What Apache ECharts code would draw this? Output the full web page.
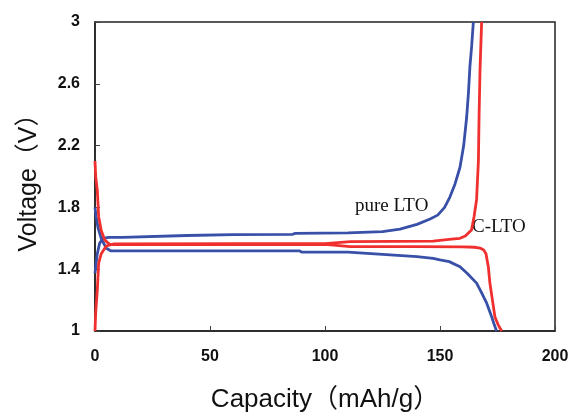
<!DOCTYPE html>
<html>
<head>
<meta charset="utf-8">
<script src="https://cdn.jsdelivr.net/npm/echarts@6/dist/echarts.min.js"></script>
<style>
html,body{margin:0;padding:0;background:#fff;}
#chart{width:573px;height:413px;}
</style>
</head>
<body>
<div id="chart"></div>
<script>
// pure LTO charge
var pureChargeCap = [0, 0.5, 1, 2, 3.5, 6, 12, 12.5, 40, 60, 86, 87, 110, 125, 132.6, 140, 145.7, 149, 152, 154.3, 156.5, 158.7, 160.3, 161.6, 162.4, 163, 163.8, 164.5];
var pureChargeV   = [1.375, 1.44, 1.50, 1.567, 1.60, 1.606, 1.606, 1.615, 1.618, 1.624, 1.626, 1.632, 1.635, 1.643, 1.66, 1.69, 1.725, 1.75, 1.80, 1.867, 1.95, 2.06, 2.2, 2.385, 2.55, 2.71, 2.85, 3.0];
// pure LTO discharge
var pureDisCap = [0, 0.5, 1.3, 2.7, 4.9, 7, 40, 89, 90, 110, 125, 140, 147, 150, 154, 158.7, 162, 165.9, 168, 170.3, 172.5, 173.6, 174.6];
var pureDisV   = [1.80, 1.74, 1.67, 1.60, 1.535, 1.518, 1.518, 1.518, 1.51, 1.51, 1.496, 1.481, 1.47, 1.46, 1.449, 1.416, 1.37, 1.31, 1.25, 1.18, 1.09, 1.04, 1.0];
// C-LTO charge
var cChargeCap = [0, 0.3, 1.0, 1.6, 2.7, 4.9, 8, 60, 100, 111, 130, 147, 147.5, 155, 158.7, 161, 163.7, 164.8, 165.9, 166.7, 167, 167.4, 168.1];
var cChargeV   = [1.0, 1.12, 1.265, 1.44, 1.50, 1.55, 1.563, 1.565, 1.566, 1.578, 1.58, 1.582, 1.593, 1.595, 1.60, 1.615, 1.654, 1.74, 1.85, 2.1, 2.4, 2.69, 3.0];
// C-LTO discharge
var cDisCap = [0, 0.3, 1.0, 1.6, 2.7, 4.2, 6.4, 60, 100, 111, 140, 160, 165, 167.4, 169, 170, 171, 171.7, 172.8, 173.9, 175.3, 176.8];
var cDisV   = [2.10, 2.0, 1.91, 1.74, 1.65, 1.59, 1.56, 1.56, 1.56, 1.546, 1.546, 1.545, 1.542, 1.537, 1.525, 1.50, 1.416, 1.31, 1.20, 1.09, 1.04, 1.0];

var xTicks = [0, 50, 100, 150, 200];
var yTicks = [1, 1.4, 1.8, 2.2, 2.6, 3];
var xName = 'Capacity（mAh/g）';
var yName = 'Voltage（V）';
var labelPure = 'pure LTO';
var labelC = 'C-LTO';

function pairs(xs, ys){ return xs.map(function(x,i){ return [x, ys[i]]; }); }

var BLUE = '#3850A8';
var RED = '#F0302E';

var chart = echarts.init(document.getElementById('chart'));
function mkSeries(xs, ys, color){
  return {type:'line', data:pairs(xs, ys), showSymbol:false, symbol:'none', smooth:false,
    lineStyle:{color:color, width:2.8}, animation:false};
}
chart.setOption({
  animation:false,
  grid:{left:95, right:18, top:22, bottom:82, outerBoundsMode:'none', containLabel:false, show:true, borderColor:'#222', borderWidth:1.5, backgroundColor:'transparent'},
  xAxis:{type:'value', min:xTicks[0], max:xTicks[xTicks.length-1], interval:50,
    name:xName, nameLocation:'middle', nameGap:56,
    nameTextStyle:{fontFamily:'Liberation Sans, Arial, Noto Sans CJK SC', fontSize:26, color:'#111'},
    axisLine:{show:true, lineStyle:{color:'#222', width:1.5}},
    axisTick:{show:true, inside:true, length:5, lineStyle:{color:'#444'}},
    axisLabel:{margin:18, fontFamily:'Liberation Sans, Arial', fontWeight:'bold', fontSize:16, color:'#111',
      formatter:function(v){ return xTicks.indexOf(v) >= 0 ? String(v) : ''; }},
    splitLine:{show:false}},
  yAxis:{type:'value', min:yTicks[0], max:yTicks[yTicks.length-1], interval:0.4,
    name:yName, nameLocation:'middle', nameGap:53, nameRotate:90,
    nameTextStyle:{fontFamily:'Liberation Sans, Arial, Noto Sans CJK SC', fontSize:25, color:'#111'},
    axisLine:{show:true, lineStyle:{color:'#222', width:1.5}},
    axisTick:{show:true, inside:true, length:5, lineStyle:{color:'#444'}},
    axisLabel:{margin:15, fontFamily:'Liberation Sans, Arial', fontWeight:'bold', fontSize:16, color:'#111',
      formatter:function(v){ var r = Math.round(v*10)/10; return String(r); }},
    splitLine:{show:false}},
  series:[
    mkSeries(pureChargeCap, pureChargeV, BLUE),
    mkSeries(pureDisCap, pureDisV, BLUE),
    mkSeries(cChargeCap, cChargeV, RED),
    mkSeries(cDisCap, cDisV, RED)
  ],
  graphic:[
    {type:'text', left:355, top:197, style:{text:labelPure, font:'19px "Liberation Serif", "Times New Roman", serif', fill:'#111'}},
    {type:'text', left:472, top:218, style:{text:labelC, font:'19px "Liberation Serif", "Times New Roman", serif', fill:'#111'}}
  ]
});
</script>
</body>
</html>
